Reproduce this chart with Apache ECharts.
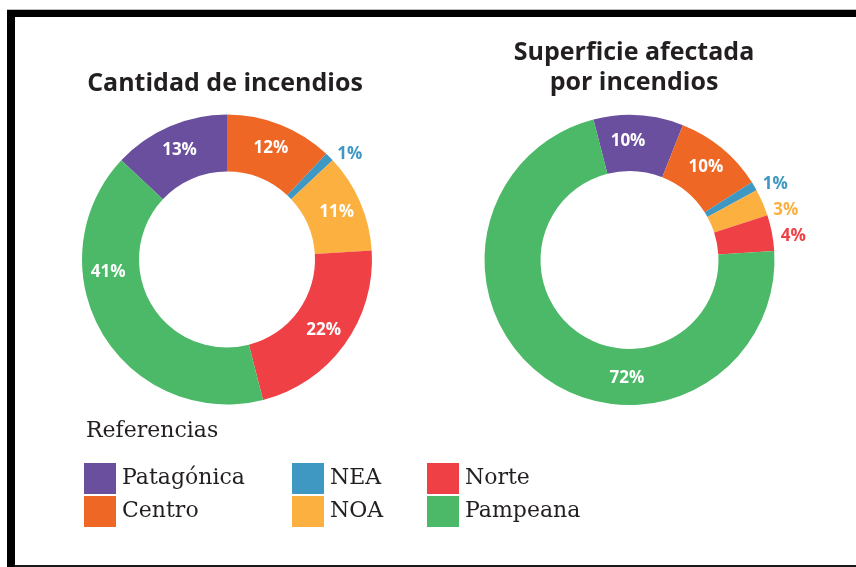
<!DOCTYPE html>
<html>
<head>
<meta charset="utf-8">
<script src="https://cdn.jsdelivr.net/npm/echarts@6/dist/echarts.min.js"></script>
<style>
  html, body { margin: 0; padding: 0; background: #fff; }
  #main { width: 856px; height: 567px; }
</style>
</head>
<body>
<div id="main"></div>
<script>
// regiones (mismo orden en los dos anillos y en las referencias)
var regiones = ['Patagónica', 'Centro', 'NEA', 'NOA', 'Norte', 'Pampeana'];
var colores = ['#6a4f9f', '#ee6725', '#3f98c2', '#fbb040', '#ef4046', '#4bb967'];

// porcentajes
var cantidadIncendios = [13, 12, 1, 11, 22, 41];
var superficieAfectada = [10, 10, 1, 3, 4, 72];

// porciones chicas con la etiqueta afuera
var afueraCantidad = ['NEA'];
var afueraSuperficie = ['NEA', 'NOA', 'Norte'];

var chart = echarts.init(document.getElementById('main'));

function armarDatos(valores, afuera) {
  return regiones.map(function (nombre, i) {
    var item = { name: nombre, value: valores[i] };
    if (afuera.indexOf(nombre) >= 0) {
      item.label = {
        position: 'outside',
        color: colores[i],
        distanceToLabelLine: 5
      };
      item.labelLine = { show: false, length: 4, length2: 0 };
    }
    return item;
  });
}

var etiqueta = {
  show: true,
  position: 'inside',
  formatter: '{c}%',
  color: '#fff',
  fontFamily: 'Open Sans',
  fontWeight: 'bold',
  fontSize: 17
};

// correr a mano algunas etiquetas, como en el original
function moverEtiquetas(ajustes) {
  return function (params) {
    var a = ajustes[params.dataIndex];
    return a ? { dx: a[0], dy: a[1] } : {};
  };
}

var option = {
  backgroundColor: '#fff',
  color: colores,
  animation: false,
  title: [
    {
      text: 'Cantidad de incendios',
      left: 225,
      top: 71,
      padding: 0,
      textAlign: 'center',
      textStyle: { fontFamily: 'Open Sans', fontWeight: 'bold', fontSize: 25, color: '#231f20' }
    },
    {
      text: 'Superficie afectada\npor incendios',
      left: 634,
      top: 38,
      padding: 0,
      textAlign: 'center',
      textStyle: { fontFamily: 'Open Sans', fontWeight: 'bold', fontSize: 25, lineHeight: 30, color: '#231f20' }
    },
    {
      text: 'Referencias',
      left: 86,
      top: 420,
      padding: 0,
      textStyle: { fontFamily: 'DejaVu Serif', fontWeight: 'normal', fontSize: 22, color: '#231f20' }
    }
  ],
  legend: [
    { data: ['Patagónica', 'Centro'], left: 84 },
    { data: ['NEA', 'NOA'], left: 292 },
    { data: ['Norte', 'Pampeana'], left: 427 }
  ].map(function (l) {
    return {
      data: l.data,
      left: l.left,
      top: 463,
      orient: 'vertical',
      padding: 0,
      icon: 'rect',
      itemWidth: 32,
      itemHeight: 31,
      itemGap: 2,
      itemStyle: { borderWidth: 0 },
      selectedMode: false,
      textStyle: { fontFamily: 'DejaVu Serif', fontSize: 22, color: '#231f20', padding: [0, 0, 0, 1] }
    };
  }),
  series: [
    {
      name: 'Cantidad de incendios',
      type: 'pie',
      center: [227, 259.5],
      radius: [88, 145],
      startAngle: 136.8,
      clockwise: true,
      avoidLabelOverlap: false,
      label: etiqueta,
      labelLine: { show: false },
      emphasis: { disabled: true },
      itemStyle: { borderWidth: 0 },
      data: armarDatos(cantidadIncendios, afueraCantidad),
      labelLayout: moverEtiquetas({ 5: [-16, -48] })
    },
    {
      name: 'Superficie afectada por incendios',
      type: 'pie',
      center: [629.5, 260],
      radius: [89, 145],
      startAngle: 104.4,
      clockwise: true,
      avoidLabelOverlap: false,
      label: etiqueta,
      labelLine: { show: false },
      emphasis: { disabled: true },
      itemStyle: { borderWidth: 0 },
      data: armarDatos(superficieAfectada, afueraSuperficie),
      labelLayout: moverEtiquetas({ 0: [-9, 1], 3: [2, 9], 4: [0, 4], 5: [68, 21] })
    }
  ],
  graphic: [
    // marco negro
    { type: 'rect', shape: { x: 7, y: 9, width: 849, height: 1 }, style: { fill: '#bbbbbb' } },
    { type: 'rect', shape: { x: 7, y: 10, width: 849, height: 7 }, style: { fill: '#000' } },
    { type: 'rect', shape: { x: 7, y: 10, width: 8, height: 557 }, style: { fill: '#000' } },
    { type: 'rect', shape: { x: 15, y: 565, width: 841, height: 2 }, style: { fill: '#1a1a1a' } }
  ]
};

chart.setOption(option);
</script>
</body>
</html>
